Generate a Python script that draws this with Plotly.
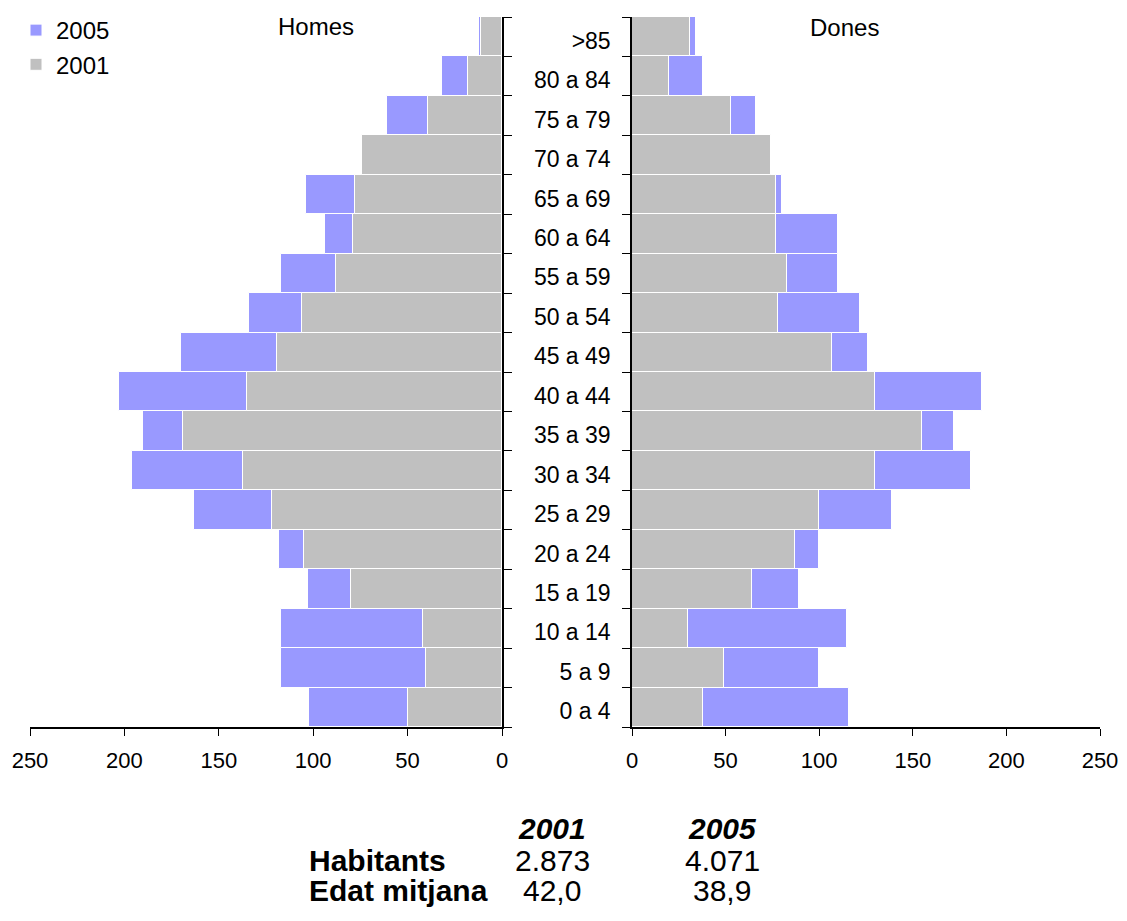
import plotly.graph_objects as go
from plotly.subplots import make_subplots

# age groups, bottom to top
age_groups = ['0 a 4', '5 a 9', '10 a 14', '15 a 19', '20 a 24', '25 a 29',
              '30 a 34', '35 a 39', '40 a 44', '45 a 49', '50 a 54', '55 a 59',
              '60 a 64', '65 a 69', '70 a 74', '75 a 79', '80 a 84', '>85']

homes_2001 = [50, 40, 42, 80, 105, 122, 137, 169, 135, 119, 106, 88, 79, 78, 74, 39, 18, 11]
homes_2005 = [102, 117, 117, 103, 118, 163, 196, 190, 203, 170, 134, 117, 94, 104, 73, 61, 32, 12]
dones_2001 = [38, 49, 30, 64, 87, 100, 130, 155, 130, 107, 78, 83, 77, 77, 74, 53, 20, 31]
dones_2005 = [116, 100, 115, 89, 100, 139, 181, 172, 187, 126, 122, 110, 110, 80, 73, 66, 38, 34]

x_ticks = [0, 50, 100, 150, 200, 250]

table_years = ['2001', '2005']
habitants = ['2.873', '4.071']
edat_mitjana = ['42,0', '38,9']

COLOR_2005 = '#9999FF'
COLOR_2001 = '#C0C0C0'
FONT = 'Arial, Liberation Sans, sans-serif'

# the page body adds an 8px margin on every side; keep the figure inside the window
OFF = 8
W, H = 1127 - 2 * OFF, 921 - 2 * OFF
PLOT_L, PLOT_R, PLOT_T, PLOT_B = 30, 1100, 17, 727   # window pixels
ML, MR = PLOT_L - OFF, W - (PLOT_R - OFF)
MT, MB = PLOT_T - OFF, H - (PLOT_B - OFF)
PW, PH = W - ML - MR, H - MT - MB


def px_x(px):
    return (px - PLOT_L) / PW


def px_y(py):
    return (PLOT_B - py) / PH


fig = make_subplots(rows=1, cols=2)

panels = [(homes_2005, homes_2001, 1), (dones_2005, dones_2001, 2)]
for v2005, v2001, col in panels:
    fig.add_trace(go.Bar(y=age_groups, x=v2005, orientation='h', name='2005',
                         marker=dict(color=COLOR_2005, line=dict(color='white', width=1)),
                         showlegend=col == 1, hoverinfo='x+y'), row=1, col=col)
    fig.add_trace(go.Bar(y=age_groups, x=v2001, orientation='h', name='2001',
                         marker=dict(color=COLOR_2001, line=dict(color='white', width=1)),
                         showlegend=col == 1, hoverinfo='x+y'), row=1, col=col)

fig.update_layout(
    width=W, height=H,
    barmode='overlay', bargap=0,
    plot_bgcolor='white', paper_bgcolor='white',
    font=dict(family=FONT, size=22, color='black'),
    margin=dict(l=ML, r=MR, t=MT, b=MB, autoexpand=False),
    legend=dict(x=8 / W, y=1.0, xref='container', yref='container',
                xanchor='left', yanchor='top', bgcolor='rgba(0,0,0,0)',
                font=dict(size=24), tracegroupgap=0, itemclick=False),
)

axis_common = dict(showline=True, linecolor='black', linewidth=1.5, ticks='outside',
                   ticklen=7, tickcolor='black', showgrid=False, zeroline=False)

fig.update_xaxes(axis_common, tickvals=x_ticks, tickfont=dict(size=22), ticklabelstandoff=6,
                 ticklabeloverflow='allow')
fig.update_xaxes(range=[250, 0], row=1, col=1)
fig.update_xaxes(range=[0, 250], row=1, col=2)

fig.update_yaxes(axis_common, type='category', categoryorder='array', categoryarray=age_groups,
                 tickson='boundaries', ticklen=8, range=[-0.5, len(age_groups) - 0.5])
fig.update_yaxes(side='right', showticklabels=False, row=1, col=1)
fig.update_yaxes(side='left', tickfont=dict(size=23), ticklabelstandoff=15, ticklabelshift=4,
                 row=1, col=2)

fig.update_layout(xaxis_domain=[0, px_x(502)], xaxis2_domain=[px_x(632), 1])

# panel titles
fig.add_annotation(text='Homes', x=px_x(316), y=px_y(27), xref='paper', yref='paper',
                   showarrow=False, font=dict(size=24), xanchor='center', yanchor='middle')
fig.add_annotation(text='Dones', x=px_x(844), y=px_y(28), xref='paper', yref='paper',
                   showarrow=False, font=dict(size=24), xanchor='center', yanchor='middle')

# summary table under the chart
col_x = [px_x(552), px_x(722)]
row_y = [px_y(828), px_y(860), px_y(891)]
for i, yr in enumerate(table_years):
    fig.add_annotation(text=f'<b><i>{yr}</i></b>', x=col_x[i], y=row_y[0], xref='paper', yref='paper',
                       showarrow=False, font=dict(size=30), xanchor='center', yanchor='middle')
    fig.add_annotation(text=habitants[i], x=col_x[i], y=row_y[1], xref='paper', yref='paper',
                       showarrow=False, font=dict(size=30), xanchor='center', yanchor='middle')
    fig.add_annotation(text=edat_mitjana[i], x=col_x[i], y=row_y[2], xref='paper', yref='paper',
                       showarrow=False, font=dict(size=30), xanchor='center', yanchor='middle')

fig.add_annotation(text='<b>Habitants</b>', x=px_x(307), y=row_y[1], xref='paper', yref='paper',
                   showarrow=False, font=dict(size=30), xanchor='left', yanchor='middle')
fig.add_annotation(text='<b>Edat mitjana</b>', x=px_x(307), y=row_y[2], xref='paper', yref='paper',
                   showarrow=False, font=dict(size=30), xanchor='left', yanchor='middle')

fig.write_html('out.html')
